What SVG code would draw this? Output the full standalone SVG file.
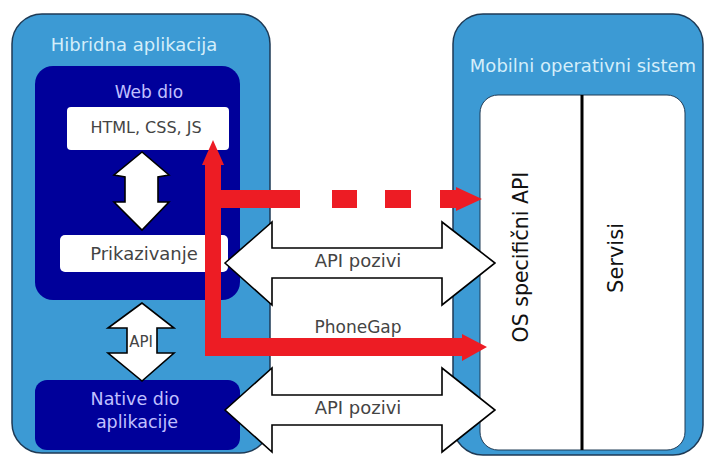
<svg xmlns="http://www.w3.org/2000/svg" width="704" height="459" viewBox="0 0 704 459">
<style>
.panel{fill:#3c9ad4;stroke:#1e3a55;stroke-width:1.5}
.navy{fill:#00009a}
.wbox{fill:#ffffff}
.warrow{fill:#ffffff;stroke:#000000;stroke-width:1.6;stroke-linejoin:miter}
.red{fill:#ed1c24}
.t{font-family:"DejaVu Sans",sans-serif;text-anchor:middle}
.light{fill:#d4eefa}
.lav{fill:#c0c0ff}
.gray{fill:#444444}
</style>
<rect width="704" height="459" fill="#ffffff"/>
<g id="hibridna">
<rect class="panel" x="12" y="14" width="258" height="439" rx="30"/>
<text class="t light" x="134" y="51" font-size="18">Hibridna aplikacija</text>
</g>
<g id="mobilni">
<rect class="panel" x="453" y="14" width="250" height="441" rx="30"/>
<text class="t light" x="583" y="72" font-size="18">Mobilni operativni sistem</text>
</g>
<g id="os-inner">
<rect x="480" y="95" width="205" height="355" rx="18" fill="#ffffff" stroke="#1e3a55" stroke-width="1"/>
<line x1="582" y1="95" x2="582" y2="450" stroke="#000000" stroke-width="3"/>
<text class="t" fill="#111111" font-size="20.5" transform="translate(528,257) rotate(-90)">OS specifični API</text>
<text class="t" fill="#111111" font-size="21" transform="translate(623,258) rotate(-90)">Servisi</text>
</g>
<g id="web-dio">
<rect class="navy" x="35" y="66" width="205" height="234" rx="18"/>
<text class="t lav" x="149" y="98" font-size="17">Web dio</text>
</g>
<g id="html">
<rect class="wbox" x="67" y="107" width="162" height="43" rx="4"/>
<text class="t gray" x="146" y="133" font-size="16">HTML, CSS, JS</text>
</g>
<g id="prikazivanje">
<rect class="wbox" x="60" y="235" width="168" height="37" rx="5"/>
<text class="t gray" x="144" y="260" font-size="18">Prikazivanje</text>
</g>
<g id="native">
<rect class="navy" x="35" y="380" width="205" height="70" rx="12"/>
<text class="t lav" x="135" y="405" font-size="17.5">Native dio</text>
<text class="t lav" x="137" y="428" font-size="17.5">aplikacije</text>
</g>
<g id="connectors">
<polygon class="warrow" points="142,152 114,175 125,177 125,202 114,202 142,230 169,202 158,202 158,177 169,175"/>
<polygon class="warrow" points="142,303 108,328 127,328 127,353 108,353 142,381 174,353 157,353 157,328 174,328"/>
<text class="t gray" x="141" y="347" font-size="15">API</text>
<polygon class="warrow" points="225,263 272,222 272,248 442,248 442,222 495,263 442,305 442,278 272,278 272,305"/>
<text class="t gray" x="358" y="267" font-size="18">API pozivi</text>
<polygon class="warrow" points="225,410 272,368 272,395 442,395 442,368 495,410 442,452 442,425 272,425 272,452"/>
<text class="t gray" x="358" y="414" font-size="18">API pozivi</text>
<text class="t gray" x="358" y="333" font-size="17">PhoneGap</text>
<path class="red" d="M205,165 H221 V338 H462 V334 L487,347 L462,361 V356 H205 Z"/>
<polygon class="red" points="213,140 202,165 224,165"/>
<rect class="red" x="213" y="190" width="87" height="18"/>
<rect class="red" x="332" y="190" width="25" height="18"/>
<rect class="red" x="385" y="190" width="26" height="18"/>
<polygon class="red" points="440,190 456,190 456,187 482,199 456,211 456,208 440,208"/>
</g>
</svg>
